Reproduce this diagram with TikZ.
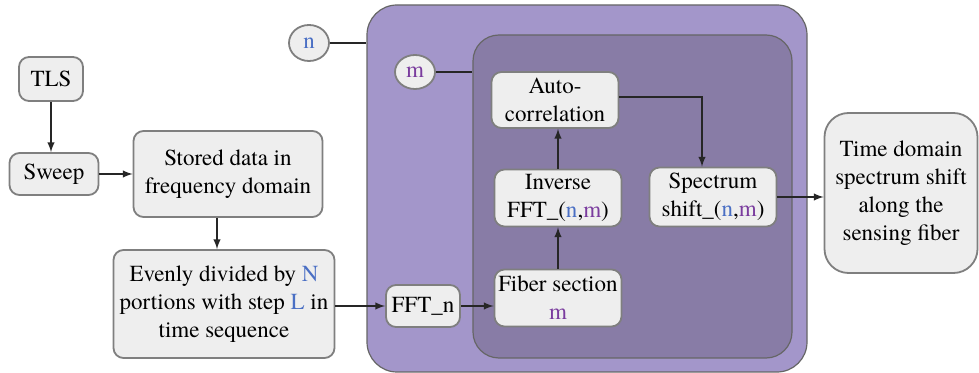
\documentclass[tikz,border=0pt]{standalone}
\usepackage{fontspec}
\setmainfont{TeX Gyre Termes}
\definecolor{myoutercolor}{HTML}{A396CA}
\definecolor{myinnercolor}{HTML}{887CA6}
\definecolor{myboxcolor}{HTML}{EEEEEE}
\definecolor{myedgecolor}{HTML}{7F7F7F}
\definecolor{myncolor}{HTML}{4A6FC4}
\definecolor{mymcolor}{HTML}{7A3C9E}
\tikzset{
  stepbox/.style={draw=myedgecolor, fill=myboxcolor, rounded corners=5pt, line width=0.9pt, align=center, inner sep=1pt, font=\rmfamily\fontsize{11.5pt}{14pt}\selectfont},
  idxcircle/.style={draw=myedgecolor, fill=myboxcolor, ellipse, line width=0.9pt, inner sep=0pt, font=\rmfamily\fontsize{11.5pt}{14pt}\selectfont},
  flow/.style={-latex, line width=0.7pt, black!85},
}
\newcommand{\nn}{\textcolor{myncolor}{n}}
\newcommand{\mm}{\textcolor{mymcolor}{m}}
\usetikzlibrary{shapes.geometric}

\begin{document}
\begin{tikzpicture}[x=0.5pt, y=-0.5pt]%
\useasboundingbox (0,0) rectangle (979,373);%
% processing loops
\node[draw=myedgecolor!80!black, fill=myoutercolor, rounded corners=15pt, minimum width=220pt, minimum height=183.5pt, line width=0.6pt] (outer) at (587, 188.5) {};%
\node[draw=myedgecolor!80!black, fill=myinnercolor, rounded corners=13pt, minimum width=159.5pt, minimum height=161.5pt, line width=0.6pt] (inner) at (632.5, 196.5) {};%
% steps
\node[stepbox, minimum width=32pt, minimum height=22pt] (tls) at (51, 79) {TLS};%
\node[stepbox, minimum width=44.5pt, minimum height=21pt] (sweep) at (54, 174) {Sweep};%
\node[stepbox, minimum width=94.5pt, minimum height=43pt] (stored) at (228, 174) {Stored data in\\ frequency domain};%
\node[stepbox, minimum width=110.5pt, minimum height=54pt] (divided) at (224, 304) {Evenly divided by \textcolor{myncolor}{N}\\ portions with step \textcolor{myncolor}{L} in\\ time sequence};%
\node[stepbox, minimum width=37pt, minimum height=21pt] (fftn) at (423, 306) {FFT\_n};%
\node[stepbox, minimum width=63.5pt, minimum height=28.5pt] (fiber) at (558, 298) {Fiber section\\ \mm};%
\node[stepbox, minimum width=63.5pt, minimum height=28.5pt] (inverse) at (558, 198) {Inverse\\ FFT\_(\nn,\mm)};%
\node[stepbox, minimum width=63.5pt, minimum height=28pt] (autocorr) at (555, 100) {Auto-\\ correlation};%
\node[stepbox, minimum width=63.5pt, minimum height=29.5pt] (specshift) at (713, 197) {Spectrum\\ shift\_(\nn,\mm)};%
\node[stepbox, rounded corners=12pt, minimum width=76.5pt, minimum height=80pt] (timedomain) at (901, 193) {Time domain\\ spectrum shift\\ along the\\ sensing fiber};%
% loop indices
\node[idxcircle, minimum width=20pt, minimum height=18pt] (nlabel) at (309, 43) {\nn};%
\node[idxcircle, minimum width=20pt, minimum height=17pt] (mlabel) at (415, 72) {\mm};%
% connectors
\draw[line width=0.7pt, black!85] (nlabel.east) -- (nlabel.east -| outer.west);%
\draw[line width=0.7pt, black!85] (mlabel.east) -- (mlabel.east -| inner.west);%
\draw[flow] (tls.south) -- (tls.south |- sweep.north);%
\draw[flow] (sweep.east) -- (sweep.east -| stored.west);%
\draw[flow] ([xshift=-5.5pt]stored.south) -- ([xshift=-5.5pt]stored.south |- divided.north);%
\draw[flow] (divided.east |- fftn.west) -- (fftn.west);%
\draw[flow] (fftn.east) -- (fftn.east -| fiber.west);%
\draw[flow] (fiber.north) -- (inverse.south);%
\draw[flow] (inverse.north) -- (inverse.north |- autocorr.south);%
\draw[flow] ([yshift=1.5pt]autocorr.east) -| ([xshift=-5.5pt]specshift.north);%
\draw[flow] (specshift.east) -- (specshift.east -| timedomain.west);%
\end{tikzpicture}
\end{document}
